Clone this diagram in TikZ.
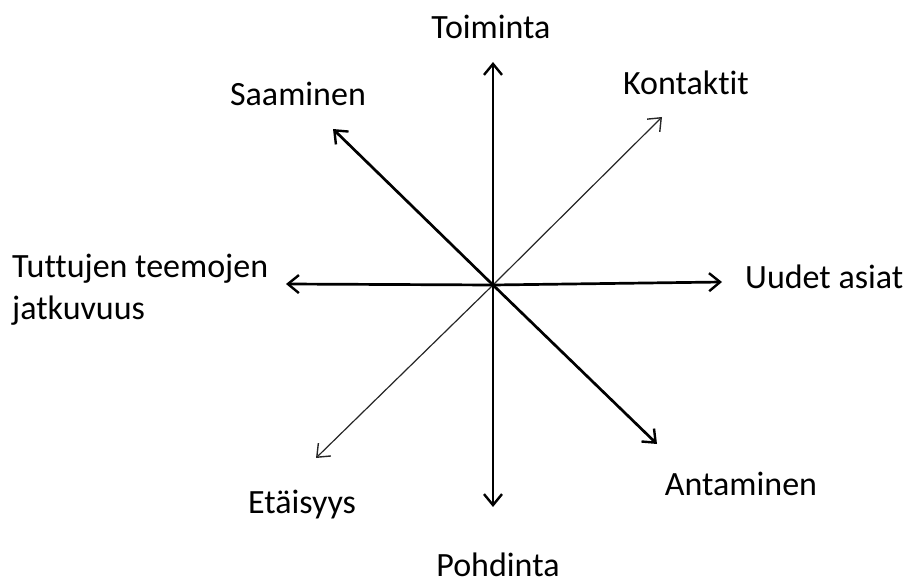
\documentclass[tikz,border=0pt]{standalone}
\usepackage{fontspec}
\setmainfont{Carlito}[Ligatures=CommonOff]
\usetikzlibrary{arrows.meta}
\begin{document}
\begin{tikzpicture}[x=1pt,y=-1pt,
  lbl/.style={anchor=base,inner sep=0pt,font=\fontsize{34}{42}\selectfont},
  thickarr/.style={draw=black,line width=2.7pt,-{Straight Barb[length=11pt,width=18pt,line width=2.4pt]}},
  thinarr/.style={draw=black!85,line width=1.2pt,-{Straight Barb[length=11pt,width=18pt,line width=1.4pt]}}]
\useasboundingbox (0,0) rectangle (906,583);
\coordinate (c) at (493,285);
\coordinate (up) at (493,62);
\coordinate (dn) at (493,507);
\coordinate (lf) at (286,284);
\coordinate (rt) at (722,282);
\coordinate (ul) at (333,129);
\coordinate (lr) at (657,444);
\coordinate (ur) at (662,117);
\coordinate (ll) at (316,458);
\draw[thinarr] (c) -- (ur);
\draw[thinarr] (c) -- (ll);
\draw[thickarr] (c) -- (up);
\draw[thickarr] (c) -- (dn);
\draw[thickarr] (c) -- (lf);
\draw[thickarr] (c) -- (rt);
\draw[thickarr] (c) -- (ul);
\draw[thickarr] (c) -- (lr);
\node[lbl] (toiminta) at (491,39) {Toiminta};
\node[lbl] (kontaktit) at (686,95) {Kontaktit};
\node[lbl] (saaminen) at (298,106) {Saaminen};
\node[lbl,anchor=base west,align=left] (tuttujen) at (12,319) {Tuttujen teemojen\\jatkuvuus};
\node[lbl,anchor=base west] (uudet) at (745,288) {Uudet asiat};
\node[lbl] (antaminen) at (741,495) {Antaminen};
\node[lbl] (etaisyys) at (302,513) {Etäisyys};
\node[lbl] (pohdinta) at (498,576) {Pohdinta};
\end{tikzpicture}
\end{document}
